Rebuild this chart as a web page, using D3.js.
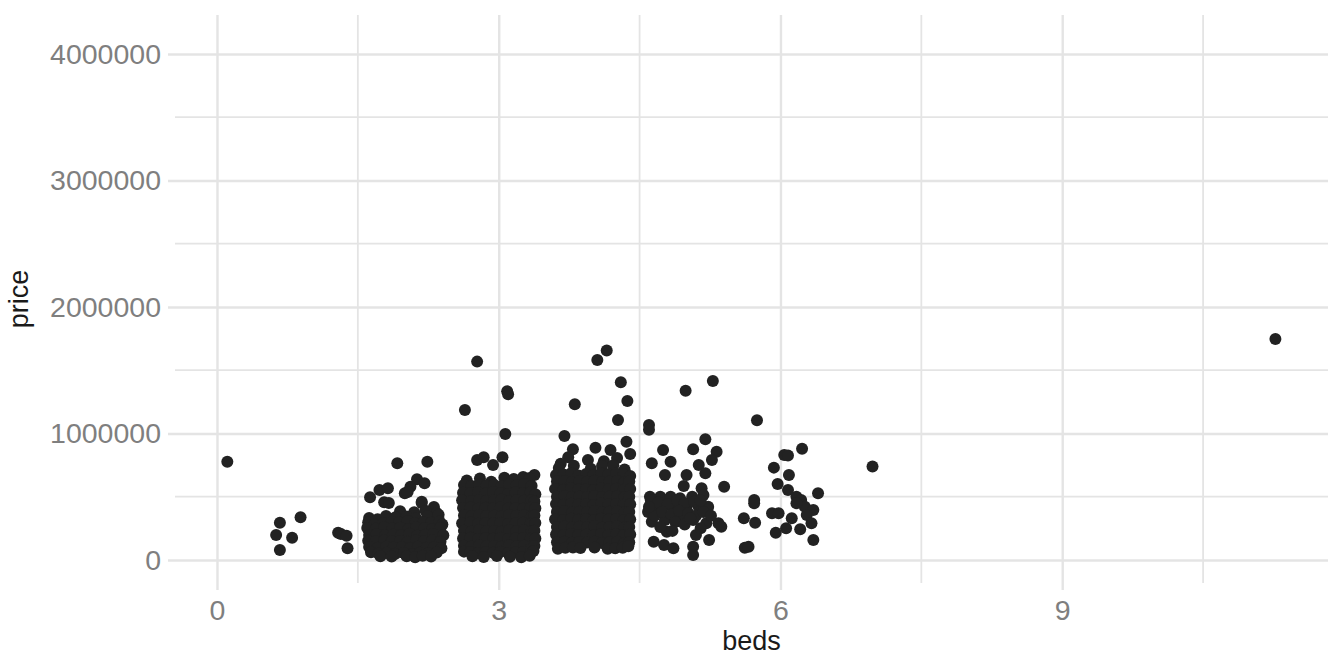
<!DOCTYPE html>
<html>
<head>
<meta charset="utf-8">
<script src="https://cdn.jsdelivr.net/npm/d3@7"></script>
<style>
  body { margin: 0; background: #fff; }
  text { font-family: "Liberation Sans", Arial, sans-serif; }
</style>
</head>
<body>
<div id="chart"></div>
<script>
var svgWidth = 1344, svgHeight = 672;

// jittered points: [beds, price in thousands]
var zeroBed = [[0.11, 777]];
var oneBed = [[0.67, 295], [0.89, 338], [0.63, 198], [0.80, 176], [0.67, 79],
  [1.29, 216], [1.32, 205], [1.38, 192], [1.39, 92]];
var twoBed = [
  [1.92, 764], [2.24, 777], [2.13, 638], [2.21, 606], [1.73, 553], [1.82, 567],
  [1.63, 496], [1.78, 456], [2.00, 527], [2.06, 579], [2.18, 461], [1.83, 450],
  [2.03, 537], [2.18, 450], [2.31, 419],
  [1.95, 385], [2.10, 378], [2.22, 390], [2.34, 372],
  [1.62, 332], [1.71, 322], [1.80, 348], [1.90, 338], [2.02, 344], [2.12, 330], [2.24, 346], [2.36, 358],
  [1.61, 298], [1.68, 285], [1.77, 292], [1.86, 302], [1.94, 296], [2.03, 308], [2.11, 290], [2.20, 300], [2.28, 294], [2.37, 305], [2.40, 280],
  [1.60, 252], [1.69, 246], [1.78, 258], [1.87, 248], [1.95, 255], [2.04, 244], [2.12, 256], [2.21, 250], [2.29, 242], [2.38, 254],
  [1.62, 198], [1.70, 205], [1.79, 194], [1.88, 202], [1.96, 196], [2.05, 208], [2.13, 192], [2.22, 200], [2.30, 206], [2.41, 195],
  [1.61, 152], [1.69, 146], [1.78, 155], [1.86, 148], [1.95, 150], [2.03, 144], [2.12, 156], [2.20, 149], [2.29, 153], [2.38, 145],
  [1.62, 102], [1.71, 96], [1.80, 105], [1.88, 98], [1.97, 101], [2.06, 94], [2.14, 104], [2.23, 97], [2.31, 100], [2.39, 92],
  [1.64, 62], [1.72, 52], [1.81, 58], [1.90, 50], [1.99, 55], [2.08, 48], [2.16, 57], [2.25, 53], [2.34, 60],
  [1.74, 30], [1.86, 28], [2.02, 30], [2.11, 22], [2.19, 34], [2.28, 27]
];
var threeBed = [
  [2.77, 1568], [3.09, 1333], [3.10, 1310], [2.64, 1186], [3.07, 996],
  [2.77, 790], [2.84, 812], [3.04, 812], [2.94, 751], [3.38, 672],
  [2.66, 628], [2.80, 645], [2.92, 618], [3.06, 650], [3.16, 640], [3.26, 655], [3.33, 648],
  [2.63, 592], [2.71, 585], [2.79, 598], [2.87, 588], [2.95, 594], [3.03, 582], [3.11, 596], [3.19, 590], [3.27, 600], [3.35, 586],
  [2.62, 532], [2.70, 528], [2.78, 535], [2.86, 525], [2.94, 538], [3.02, 530], [3.10, 522], [3.18, 534], [3.26, 528], [3.34, 536], [3.39, 520],
  [2.61, 472], [2.71, 466], [2.79, 475], [2.87, 468], [2.95, 470], [3.03, 478], [3.11, 464], [3.19, 472], [3.27, 468], [3.35, 474], [3.38, 462],
  [2.62, 410], [2.70, 415], [2.78, 405], [2.86, 412], [2.94, 408], [3.02, 416], [3.10, 406], [3.18, 411], [3.26, 404], [3.34, 413], [3.39, 408],
  [2.63, 352], [2.71, 346], [2.79, 355], [2.87, 348], [2.95, 350], [3.03, 344], [3.11, 356], [3.19, 349], [3.27, 353], [3.35, 345], [3.38, 352],
  [2.61, 290], [2.70, 296], [2.78, 286], [2.86, 292], [2.94, 288], [3.02, 295], [3.10, 285], [3.18, 291], [3.26, 294], [3.34, 287], [3.39, 292],
  [2.63, 232], [2.71, 226], [2.79, 235], [2.87, 228], [2.95, 230], [3.03, 224], [3.11, 236], [3.19, 229], [3.27, 233], [3.35, 226], [3.38, 231],
  [2.62, 170], [2.70, 175], [2.78, 166], [2.86, 172], [2.94, 168], [3.02, 176], [3.10, 165], [3.18, 171], [3.26, 174], [3.34, 167], [3.39, 170],
  [2.63, 112], [2.71, 106], [2.79, 115], [2.87, 108], [2.95, 110], [3.03, 104], [3.11, 116], [3.19, 109], [3.27, 113], [3.35, 106], [3.38, 111],
  [2.63, 66], [2.70, 64], [2.78, 56], [2.86, 62], [2.94, 58], [3.02, 65], [3.10, 55], [3.18, 61], [3.26, 63], [3.34, 57], [3.37, 70],
  [2.72, 30], [2.84, 24], [2.98, 32], [3.12, 26], [3.24, 22], [3.33, 34]
];
var fourBed = [
  [4.15, 1655], [4.05, 1581], [4.30, 1405], [4.37, 1257], [3.81, 1231], [4.27, 1107],
  [3.70, 980], [4.36, 935], [4.40, 838], [4.03, 888], [3.79, 875], [3.74, 812],
  [4.19, 870], [4.26, 806], [3.95, 790], [3.66, 760], [4.12, 780],
  [3.64, 728], [3.80, 745], [3.98, 722], [4.10, 742], [4.22, 748], [4.34, 716],
  [3.61, 672], [3.69, 676], [3.77, 685], [3.85, 668], [3.93, 680], [4.01, 674], [4.09, 686], [4.17, 679], [4.25, 683], [4.33, 676], [4.40, 664],
  [3.62, 620], [3.70, 625], [3.78, 615], [3.86, 622], [3.94, 618], [4.02, 626], [4.10, 614], [4.18, 621], [4.26, 624], [4.34, 617], [4.39, 620],
  [3.60, 562], [3.69, 556], [3.77, 565], [3.85, 558], [3.93, 560], [4.01, 554], [4.09, 566], [4.17, 559], [4.25, 563], [4.33, 556], [4.40, 561],
  [3.62, 500], [3.70, 505], [3.78, 496], [3.86, 502], [3.94, 498], [4.02, 506], [4.10, 495], [4.18, 501], [4.26, 504], [4.34, 497], [4.39, 500],
  [3.61, 442], [3.69, 436], [3.77, 445], [3.85, 438], [3.93, 440], [4.01, 434], [4.09, 446], [4.17, 439], [4.25, 443], [4.33, 436], [4.40, 441],
  [3.62, 380], [3.70, 385], [3.78, 376], [3.86, 382], [3.94, 378], [4.02, 386], [4.10, 375], [4.18, 381], [4.26, 384], [4.34, 377], [4.39, 380],
  [3.60, 322], [3.69, 316], [3.77, 325], [3.85, 318], [3.93, 320], [4.01, 314], [4.09, 326], [4.17, 319], [4.25, 323], [4.33, 316], [4.40, 321],
  [3.62, 260], [3.70, 265], [3.78, 256], [3.86, 262], [3.94, 258], [4.02, 266], [4.10, 255], [4.18, 261], [4.26, 264], [4.34, 257], [4.39, 260],
  [3.61, 202], [3.69, 196], [3.77, 205], [3.85, 198], [3.93, 200], [4.01, 194], [4.09, 206], [4.17, 199], [4.25, 203], [4.33, 196], [4.40, 201],
  [3.62, 140], [3.70, 145], [3.78, 136], [3.86, 142], [3.94, 138], [4.02, 146], [4.10, 135], [4.18, 141], [4.26, 144], [4.34, 137], [4.39, 140],
  [3.63, 88], [3.71, 96], [3.79, 99], [3.87, 94], [4.02, 98], [4.16, 88], [4.24, 92], [4.32, 97], [4.38, 108]
];
var fiveBed = [
  [4.60, 1067], [4.60, 1030], [4.99, 1338], [5.28, 1415], [5.75, 1104], [5.20, 954],
  [4.75, 870], [5.07, 875], [5.32, 856], [5.27, 790], [4.63, 764], [4.83, 777],
  [4.77, 672], [5.13, 751], [5.20, 685], [5.00, 672], [4.97, 585], [5.40, 579], [5.16, 567],
  [5.72, 474], [5.72, 448], [5.61, 329], [5.73, 295], [5.62, 97], [5.66, 105],
  [4.61, 500], [4.72, 500], [4.83, 500], [4.93, 488], [5.06, 500], [5.18, 514],
  [4.59, 380], [4.68, 420], [4.86, 420], [5.00, 420], [5.13, 420], [5.23, 420],
  [4.63, 303], [4.77, 316], [4.95, 342], [5.07, 316], [5.21, 290], [5.34, 290],
  [4.79, 224], [5.10, 198], [5.24, 158], [4.65, 145], [4.76, 119], [4.86, 92],
  [5.07, 105], [5.07, 40], [5.37, 263],
  [4.62, 470], [4.70, 455], [4.80, 440], [4.90, 470], [4.98, 450], [5.08, 460], [5.15, 470],
  [4.66, 350], [4.74, 380], [4.84, 360], [4.92, 390], [5.02, 370], [5.10, 350], [5.18, 380],
  [4.60, 420], [4.88, 300], [4.98, 280], [5.15, 250], [4.72, 260], [5.04, 330], [4.85, 230], [5.26, 350]
];
var sixBed = [
  [6.04, 830], [6.08, 825], [6.23, 880], [5.93, 730], [6.09, 672], [5.97, 600],
  [6.08, 553], [5.91, 369], [5.98, 369], [6.17, 500], [6.22, 474], [6.40, 527],
  [6.26, 420], [6.35, 395], [6.28, 356], [6.12, 329], [6.33, 290], [6.06, 250],
  [6.21, 243], [5.95, 216], [6.35, 158], [6.17, 448]
];
var sevenPlus = [[6.98, 738], [11.27, 1747]];

var xMajor = [0, 3, 6, 9], xMinor = [1.5, 4.5, 7.5, 10.5];
var yMajor = [0, 1000000, 2000000, 3000000, 4000000];
var yMinor = [500000, 1500000, 2500000, 3500000];

var points = zeroBed.concat(oneBed, twoBed, threeBed, fourBed, fiveBed, sixBed, sevenPlus);

var panel = { left: 175, right: 1328, top: 15, bottom: 583 };
var gridColor = "#e4e4e4";

var svg = d3.select("#chart").append("svg")
    .attr("width", svgWidth)
    .attr("height", svgHeight);

var x = d3.scaleLinear().domain([-0.447, 11.83]).range([panel.left, panel.right]);
var y = d3.scaleLinear().domain([-182000, 4308000]).range([panel.bottom, panel.top]);

// minor grid
svg.append("g").selectAll("line").data(xMinor).enter().append("line")
    .attr("x1", function(d) { return x(d); }).attr("x2", function(d) { return x(d); })
    .attr("y1", panel.top).attr("y2", panel.bottom)
    .attr("stroke", gridColor).attr("stroke-width", 1.8);
svg.append("g").selectAll("line").data(yMinor).enter().append("line")
    .attr("y1", function(d) { return y(d); }).attr("y2", function(d) { return y(d); })
    .attr("x1", panel.left).attr("x2", panel.right)
    .attr("stroke", gridColor).attr("stroke-width", 1.8);

// major grid + axis labels (ticks stick out of the panel a little)
var xAxis = svg.append("g")
    .attr("transform", "translate(0," + (panel.bottom + 7) + ")")
    .call(d3.axisBottom(x).tickValues(xMajor)
        .tickSizeInner(-(panel.bottom - panel.top + 7)).tickSizeOuter(0).tickPadding(10));

var yAxis = svg.append("g")
    .attr("transform", "translate(" + (panel.left - 7) + ",0)")
    .call(d3.axisLeft(y).tickValues(yMajor).tickFormat(d3.format("d"))
        .tickSizeInner(-(panel.right - panel.left + 7)).tickSizeOuter(0).tickPadding(7));

svg.selectAll(".domain").remove();
svg.selectAll(".tick line")
    .style("stroke", gridColor)
    .style("stroke-width", "2.4px");
svg.selectAll(".tick text")
    .style("fill", "#7f7f7f")
    .style("font-size", "28.5px")
    .style("font-family", "'Liberation Sans', Arial, sans-serif");

// points
svg.append("g").selectAll("circle")
    .data(points)
    .enter().append("circle")
    .attr("cx", function(d) { return x(d[0]); })
    .attr("cy", function(d) { return y(d[1] * 1000); })
    .attr("r", 6)
    .attr("fill", "#222222");

// axis titles
svg.append("text")
    .attr("x", (panel.left + panel.right) / 2)
    .attr("y", 650)
    .attr("text-anchor", "middle")
    .style("font-size", "27px")
    .attr("fill", "#1a1a1a")
    .text("beds");

svg.append("text")
    .attr("transform", "translate(28," + ((panel.top + panel.bottom) / 2) + ") rotate(-90)")
    .attr("text-anchor", "middle")
    .style("font-size", "27px")
    .attr("fill", "#1a1a1a")
    .text("price");
</script>
</body>
</html>
